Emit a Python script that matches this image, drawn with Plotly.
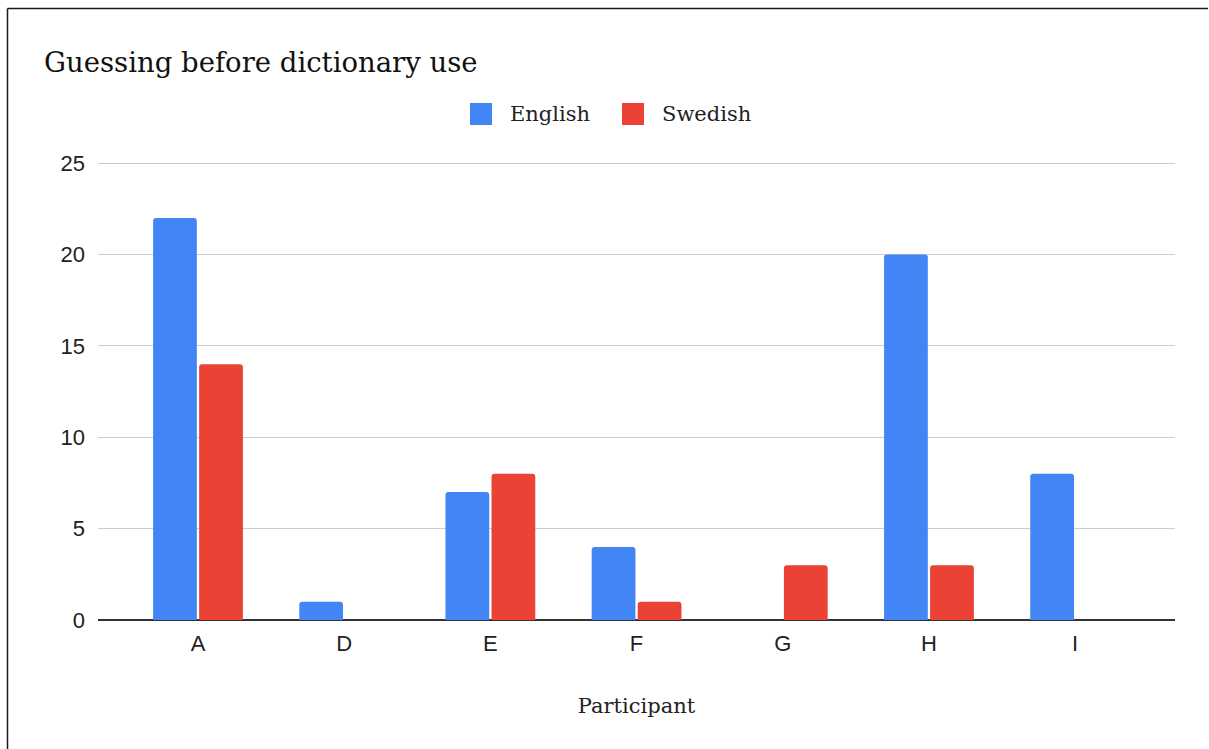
import plotly.graph_objects as go

participants = ["A", "D", "E", "F", "G", "H", "I"]
english = [22, 1, 7, 4, 0, 20, 8]
swedish = [14, 0, 8, 1, 3, 3, 0]
y_ticks = [0, 5, 10, 15, 20, 25]

BLUE = "#4285F4"
RED = "#EA4335"
SERIF = "DejaVu Serif"
SANS = "Liberation Sans, Arial"

W, H = 1209, 749
L, R, T, B = 98, 34, 162, 129
PW, PH = W - L - R, H - T - B


def px(x):
    return (x - L) / PW


def py(y):
    return (H - B - y) / PH


fig = go.Figure()
fig.add_trace(go.Bar(x=participants, y=english, name="English",
                     marker=dict(color=BLUE, line=dict(width=0))))
fig.add_trace(go.Bar(x=participants, y=swedish, name="Swedish",
                     marker=dict(color=RED, line=dict(width=0))))

shapes = [
    # frame around the chart (top and left edges)
    dict(type="line", xref="paper", yref="paper", x0=px(7.5), x1=px(1208), y0=py(8.5), y1=py(8.5),
         line=dict(color="#1a1a1a", width=1.5)),
    dict(type="line", xref="paper", yref="paper", x0=px(7.5), x1=px(7.5), y0=py(8.5), y1=py(749),
         line=dict(color="#1a1a1a", width=1.5)),
]
annotations = []

# legend swatches and labels
legend_items = [("English", BLUE, 470), ("Swedish", RED, 622)]
for label, color, x0 in legend_items:
    shapes.append(dict(type="rect", xref="paper", yref="paper",
                       x0=px(x0), x1=px(x0 + 22), y0=py(125), y1=py(103),
                       fillcolor=color, line=dict(width=0), layer="above"))
    annotations.append(dict(text=label, xref="paper", yref="paper",
                            x=px(x0 + 38), y=py(114), xanchor="left", yanchor="middle",
                            showarrow=False, font=dict(family=SERIF, size=21, color="#222222")))

fig.update_layout(
    width=W, height=H,
    margin=dict(l=L, r=R, t=T, b=B, pad=0),
    paper_bgcolor="white", plot_bgcolor="white",
    barmode="group", bargap=0.37, bargroupgap=0.05, barcornerradius=3,
    showlegend=False,
    title=dict(text="Guessing before dictionary use", xref="container", yref="container",
               x=44 / W, y=1 - 62 / H, xanchor="left", yanchor="middle",
               font=dict(family=SERIF, size=27.5, color="#111111")),
    shapes=shapes,
    annotations=annotations,
    xaxis=dict(
        range=[-0.684, 6.683], showgrid=False, zeroline=False,
        showline=False, ticks="",
        tickfont=dict(family=SANS, size=22, color="#222222"),
        ticklabelstandoff=8,
        title=dict(text="Participant", font=dict(family=SERIF, size=21, color="#222222"), standoff=43),
    ),
    yaxis=dict(
        range=[0, 25.06], tickvals=y_ticks, showgrid=True, gridcolor="#cccccc", gridwidth=1,
        zeroline=True, zerolinecolor="#333333", zerolinewidth=2,
        tickfont=dict(family=SANS, size=22, color="#222222"),
        ticklabelstandoff=12,
    ),
)

fig.write_html("out.html")
